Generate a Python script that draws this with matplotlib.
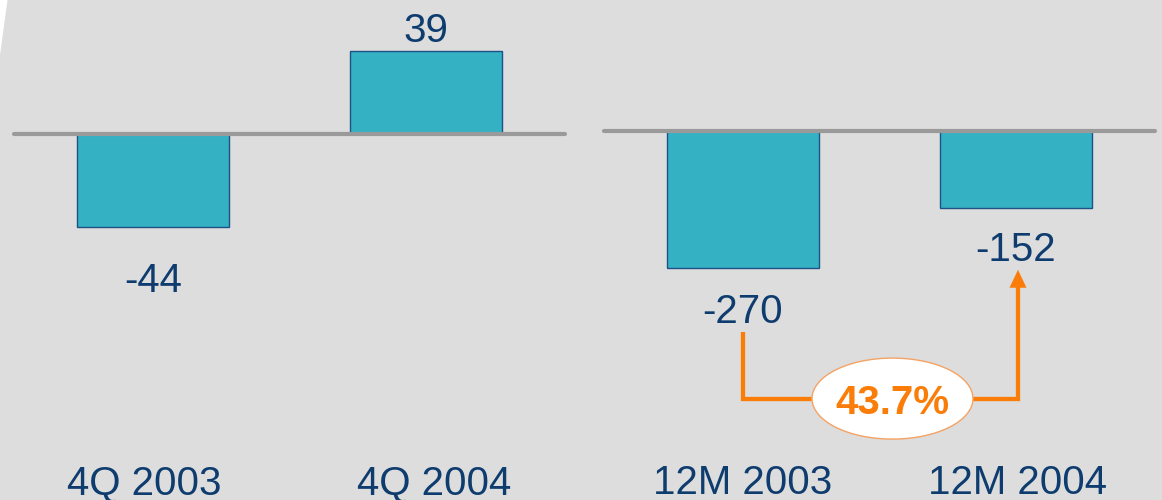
import matplotlib
matplotlib.use("Agg")
import matplotlib.pyplot as plt
from matplotlib.patches import Ellipse, Polygon
from matplotlib.lines import Line2D
from matplotlib.transforms import IdentityTransform

# ---- data ----
quarter_labels = ["4Q 2003", "4Q 2004"]
quarter_values = [-44, 39]
year_labels = ["12M 2003", "12M 2004"]
year_values = [-270, -152]
change_label = "43.7%"

# ---- style ----
BG = "#dddddd"
BAR = "#35b1c4"
EDGE = "#1d5287"
TXT = "#0e3c6e"
BASE = "#9a9a9a"
ORANGE = "#fa7d0a"
FONT = "Liberation Sans"
FS = 29

W, H, DPI = 1162, 500, 100
fig = plt.figure(figsize=(W / DPI, H / DPI), dpi=DPI, facecolor=BG)

# light sliver in the upper-left corner
fig.patches.append(Polygon([(0, H), (7.5, H), (0, H - 55)], closed=True,
                           transform=IdentityTransform(), facecolor="white",
                           edgecolor="none"))


def panel(left_px, base_px, px_per_unit, labels, values, label_offsets, cat_shift):
    ax = fig.add_axes([left_px / W, 0, 551 / W, 1])
    ax.set_facecolor("none")
    span = 273.0
    x0 = (153 - 14) / span if left_px < 100 else (743 - 604) / span
    ax.set_xlim(-x0, -x0 + 551 / span)
    ax.set_ylim(-(H - base_px) / px_per_unit, base_px / px_per_unit)
    xs = list(range(len(values)))
    ax.bar(xs, values, width=152 / span, color=BAR, edgecolor=EDGE,
           linewidth=1.0, zorder=2)
    ax.axhline(0, color=BASE, linewidth=3.0, solid_capstyle="round",
               clip_on=False, zorder=3)
    for x, v, off in zip(xs, values, label_offsets):
        ax.annotate(f"{v}", xy=(x, v), xytext=(0, off),
                    textcoords="offset pixels", ha="center", va="baseline",
                    fontsize=FS, color=TXT, family=FONT)
    for x, lab, dx in zip(xs, labels, cat_shift):
        ax.annotate(lab, xy=(x, 0), xycoords=("data", "axes fraction"),
                    xytext=(dx, 6), textcoords="offset pixels",
                    ha="center", va="baseline", fontsize=FS, color=TXT,
                    family=FONT)
    ax.axis("off")
    return ax


ax1 = panel(14, 133.5, 2.117, quarter_labels, quarter_values,
            [-65, 9], [-9, 8])
ax2 = panel(604, 130.7, 0.507, year_labels, year_values,
            [-55, -53], [0, 1])

# ---- change connector between the yearly bars ----
xa, ya = ax2.transData.transform((0, year_values[0]))
xb, yb = ax2.transData.transform((1, year_values[1]))
elbow_y = ya - 131
start_y = ya - 64
tip_y = yb - 62
head_len, head_half = 18, 8.5
xr = xb + 2
lw = 3.1

fig.lines.append(Line2D([xa, xa, xr, xr], [start_y, elbow_y, elbow_y, tip_y - head_len + 1],
                        transform=IdentityTransform(), color=ORANGE,
                        linewidth=lw, solid_joinstyle="miter",
                        solid_capstyle="butt", zorder=4))
fig.patches.append(Polygon([(xr - head_half, tip_y - head_len), (xr + head_half, tip_y - head_len),
                            (xr, tip_y)], closed=True,
                           transform=IdentityTransform(), facecolor=ORANGE,
                           edgecolor="none", zorder=4))
cx = (xa + xb) / 2 + 13
fig.patches.append(Ellipse((cx, elbow_y), 161, 81, transform=IdentityTransform(),
                           facecolor="white", edgecolor="#f5a263", linewidth=1.0,
                           zorder=5))
fig.text(cx / W, (elbow_y - 15) / H, change_label, ha="center", va="baseline",
         fontsize=FS, fontweight="bold", color=ORANGE, family=FONT, zorder=6)

fig.savefig("out.png", dpi=DPI, facecolor=BG)
